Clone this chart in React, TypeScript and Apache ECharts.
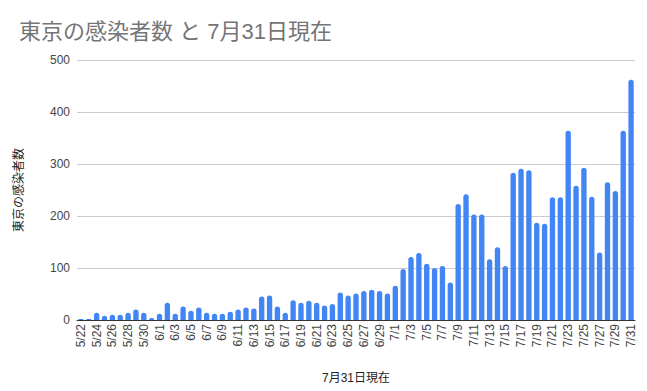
import React, { useEffect, useRef } from "react";
import * as echarts from "echarts";

const categories: string[] = [
  "5/22","5/23","5/24","5/25","5/26","5/27","5/28","5/29","5/30","5/31",
  "6/1","6/2","6/3","6/4","6/5","6/6","6/7","6/8","6/9","6/10",
  "6/11","6/12","6/13","6/14","6/15","6/16","6/17","6/18","6/19","6/20",
  "6/21","6/22","6/23","6/24","6/25","6/26","6/27","6/28","6/29","6/30",
  "7/1","7/2","7/3","7/4","7/5","7/6","7/7","7/8","7/9","7/10",
  "7/11","7/12","7/13","7/14","7/15","7/16","7/17","7/18","7/19","7/20",
  "7/21","7/22","7/23","7/24","7/25","7/26","7/27","7/28","7/29","7/30","7/31",
];

const cases: number[] = [
  2, 2, 14, 8, 10, 10, 14, 20, 14, 4,
  12, 33, 12, 26, 18, 24, 14, 12, 12, 16,
  20, 24, 22, 45, 47, 26, 14, 38, 33, 37,
  33, 28, 31, 53, 47, 51, 56, 58, 56, 51,
  66, 98, 121, 129, 108, 100, 104, 72, 223, 242,
  203, 203, 117, 140, 104, 283, 291, 288, 187, 185,
  236, 236, 364, 258, 293, 237, 130, 265, 248, 364, 462,
];

const titleText = "東京の感染者数 と 7月31日現在";
const yAxisName = "東京の感染者数";
const xAxisName = "7月31日現在";

const FONT = "'Liberation Sans', Arial, 'Noto Sans CJK JP', sans-serif";

export default function App() {
  const ref = useRef<HTMLDivElement>(null);
  useEffect(() => {
    if (!ref.current) return;
    const chart = echarts.init(ref.current, undefined, { renderer: "svg" });
    chart.setOption({
      animation: false,
      backgroundColor: "#ffffff",
      title: {
        text: titleText,
        left: 14,
        top: 15,
        textStyle: { color: "#757575", fontSize: 22, fontWeight: "normal", fontFamily: FONT },
      },
      grid: { left: 77, right: 12, top: 60, bottom: 71 },
      xAxis: {
        type: "category",
        data: categories,
        name: xAxisName,
        nameLocation: "middle",
        nameGap: 52,
        nameTextStyle: { color: "#222", fontSize: 12, fontFamily: FONT },
        axisLine: { lineStyle: { color: "#333", width: 1 } },
        axisTick: { show: false },
        axisLabel: {
          interval: 1,
          rotate: 90,
          color: "#444",
          fontSize: 12,
          fontFamily: FONT,
          margin: 4,
        },
      },
      yAxis: {
        type: "value",
        min: 0,
        max: 500,
        interval: 100,
        name: yAxisName,
        nameLocation: "middle",
        nameGap: 52,
        nameRotate: 90,
        nameTextStyle: { color: "#222", fontSize: 12, fontFamily: FONT },
        axisLine: { show: false },
        axisTick: { show: false },
        axisLabel: { color: "#444", fontSize: 12, fontFamily: FONT, margin: 7 },
        splitLine: { lineStyle: { color: "#cccccc", width: 1 } },
      },
      series: [
        {
          type: "bar",
          data: cases,
          barWidth: "68%",
          itemStyle: { color: "#4285F4", borderRadius: [3, 3, 0, 0] },
        },
      ],
    });
    return () => chart.dispose();
  }, []);
  return <div ref={ref} style={{ width: 647, height: 391, position: "absolute", left: 0, top: 0 }} />;
}
